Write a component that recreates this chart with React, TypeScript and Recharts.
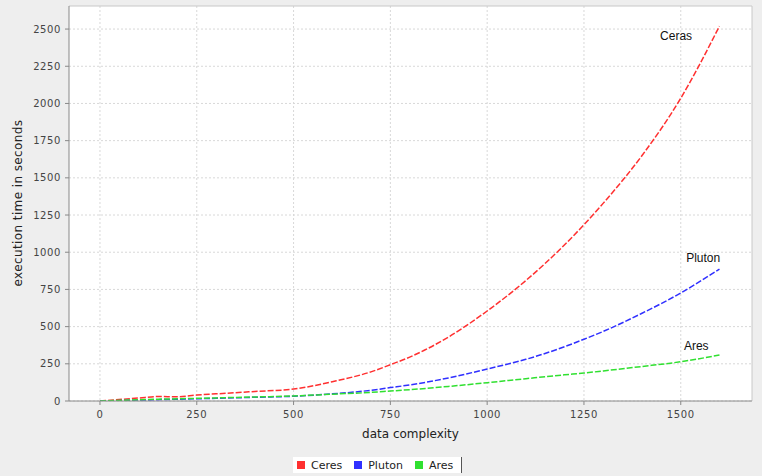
import React from 'react';
import { LineChart, Line, XAxis, YAxis, CartesianGrid, ReferenceLine, ReferenceDot } from 'recharts';

// data complexity (x) and execution time in seconds per engine
const complexity = [0, 100, 150, 200, 250, 300, 400, 500, 600, 700, 750, 800, 900, 1000, 1100, 1200, 1250, 1300, 1400, 1500, 1600];
const ceres = [0, 20, 30, 28, 40, 48, 64, 80, 130, 196, 244, 295, 430, 605, 810, 1050, 1185, 1330, 1650, 2035, 2520];
const pluton = [0, 6, 9, 12, 15, 18, 25, 32, 48, 72, 90, 108, 155, 215, 280, 365, 415, 468, 590, 726, 887];
const ares = [0, 8, 12, 15, 18, 21, 27, 34, 46, 58, 67, 76, 98, 123, 150, 176, 188, 202, 232, 264, 309];

const xTicks = [0, 250, 500, 750, 1000, 1250, 1500];
const yTicks = [0, 250, 500, 750, 1000, 1250, 1500, 1750, 2000, 2250, 2500];

const seriesNames = ['Ceres', 'Pluton', 'Ares'];
const seriesColors = ['#ff3030', '#3030ff', '#30e030'];

// end-of-line annotations (data coordinates)
const annotations = [
  { text: 'Ceras', x: 1488, y: 2455 },
  { text: 'Pluton', x: 1558, y: 960 },
  { text: 'Ares', x: 1540, y: 370 },
];

const rows = complexity.map((c, i) => ({ c, ceres: ceres[i], pluton: pluton[i], ares: ares[i] }));
const keys = ['ceres', 'pluton', 'ares'];

const tickStyle = { fill: '#444', fontSize: 10, fontFamily: 'DejaVu Sans', letterSpacing: 0.6 };

export default function App() {
  return (
    <div style={{ position: 'absolute', left: 0, top: 0, width: 762, height: 476, background: '#eeeeee', fontFamily: 'DejaVu Sans' }}>
      <LineChart width={762} height={476} data={rows} margin={{ top: 6, right: 10, left: 0, bottom: 45 }}>
        <CartesianGrid fill="#ffffff" stroke="#d8d8d8" strokeDasharray="2 2" horizontalValues={yTicks} verticalValues={xTicks} />
        <XAxis
          dataKey="c"
          type="number"
          domain={[-80, 1684]}
          allowDataOverflow
          ticks={xTicks}
          height={30}
          tickSize={4}
          tickMargin={6}
          stroke="#888"
          tick={tickStyle}
          label={{ value: 'data complexity', position: 'bottom', offset: -2, fill: '#222', fontSize: 12 }}
        />
        <YAxis
          type="number"
          domain={[0, 2655]}
          allowDataOverflow
          ticks={yTicks}
          width={69}
          tickSize={4}
          tickMargin={4}
          stroke="#888"
          tick={tickStyle}
        />
        <ReferenceLine y={2655} stroke="#c8c8c8" />
        <ReferenceLine x={1684} stroke="#c8c8c8" />
        {keys.map((k, i) => (
          <Line
            key={k}
            type="monotone"
            dataKey={k}
            name={seriesNames[i]}
            stroke={seriesColors[i]}
            strokeWidth={1.5}
            strokeDasharray="6 2"
            dot={false}
            isAnimationActive={false}
          />
        ))}
        {annotations.map((a) => (
          <ReferenceDot
            key={a.text}
            x={a.x}
            y={a.y}
            r={0}
            stroke="none"
            fill="none"
            label={{ value: a.text, position: 'center', fill: '#111', fontSize: 12, fontFamily: 'Liberation Sans' }}
          />
        ))}
        <text x={18} y={203} transform="rotate(-90 18 203)" textAnchor="middle" dominantBaseline="middle" fill="#222" fontSize={12} letterSpacing={0.4}>
          execution time in seconds
        </text>
      </LineChart>
      <div
        style={{
          position: 'absolute',
          left: 293,
          top: 457,
          height: 16,
          display: 'flex',
          alignItems: 'center',
          background: '#fff',
          padding: '0 4px',
          borderRight: '1px solid #555',
          fontSize: 11,
          color: '#222',
        }}
      >
        {seriesNames.map((n, i) => (
          <span key={n} style={{ display: 'flex', alignItems: 'center', marginRight: i < 2 ? 12 : 4 }}>
            <span style={{ width: 8, height: 8, background: seriesColors[i], marginRight: 6, display: 'inline-block' }} />
            {n}
          </span>
        ))}
      </div>
    </div>
  );
}
